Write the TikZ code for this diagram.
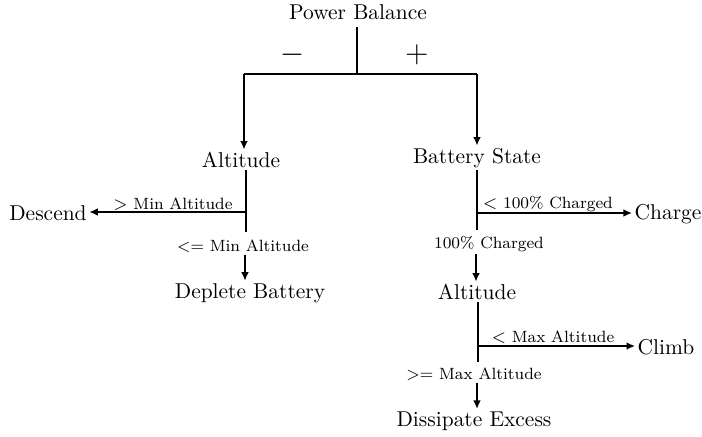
\documentclass[tikz,border=0pt]{standalone}
\usetikzlibrary{arrows.meta}
\begin{document}
\begin{tikzpicture}[x=0.466pt,y=-0.466pt,
  line/.style={line width=0.8pt},
  arr/.style={line width=0.8pt,-{Latex[length=4pt,width=3.6pt]}},
  lab/.style={font=\fontsize{7.6}{9}\selectfont,inner sep=1pt},
  state/.style={inner sep=1pt}]
\useasboundingbox (0,0) rectangle (702,436);
% nodes
\node[state] (pb) at (358,12) {Power Balance};
\node (minus) at (293,55) {\Large $-$};
\node (plus) at (417,55) {\Large $+$};
\node[state] (alt1) at (241,160) {Altitude};
\node[state] (bat) at (477,158) {Battery State};
\node[state] (desc) at (48,213) {Descend};
\node[lab] (lmin) at (173,204) {$>$ Min Altitude};
\node[lab] (lemin) at (243,246) {<= Min Altitude};
\node[state] (dep) at (250,293) {Deplete Battery};
\node[state] (chg) at (668,214) {Charge};
\node[lab] (lch) at (548,204) {$<$ 100\% Charged};
\node[lab] (fch) at (489,244) {100\% Charged};
\node[state] (alt2) at (477,292) {Altitude};
\node[state] (climb) at (666,347) {Climb};
\node[lab] (lmax) at (553,337) {$<$ Max Altitude};
\node[lab] (gmax) at (474,374) {>= Max Altitude};
\node[state] (dis) at (474,421) {Dissipate Excess};
% coordinates
\coordinate (j00) at (357,27);
\coordinate (j0) at (357,74);
\coordinate (jl) at (244,74);
\coordinate (jr) at (477,74);
\coordinate (b1) at (246,212);
\coordinate (e1) at (246,232);
\coordinate (b2) at (477,213);
\coordinate (e2) at (477,230);
\coordinate (b3) at (478,346);
\coordinate (e3) at (478,362);
% connectors
\draw[line] (j00) -- (j0);
\draw[line] (jl) -- (jr);
\draw[arr] (jl) -- (jl |- alt1.north);
\draw[arr] (jr) -- (jr |- bat.north);
\draw[line] (alt1.south -| b1) -- (e1);
\draw[arr] (b1) -- (desc.east |- b1);
\draw[arr] (lemin.south -| 245,0) -- (245,0 |- dep.north);
\draw[line] (bat.south -| b2) -- (e2);
\draw[arr] (b2) -- (chg.west |- b2);
\draw[arr] (fch.south -| 476,0) -- (476,0 |- alt2.north);
\draw[line] (alt2.south -| b3) -- (e3);
\draw[arr] (b3) -- (climb.west |- b3);
\draw[arr] (gmax.south -| 477,0) -- (477,0 |- dis.north);
\end{tikzpicture}
\end{document}
